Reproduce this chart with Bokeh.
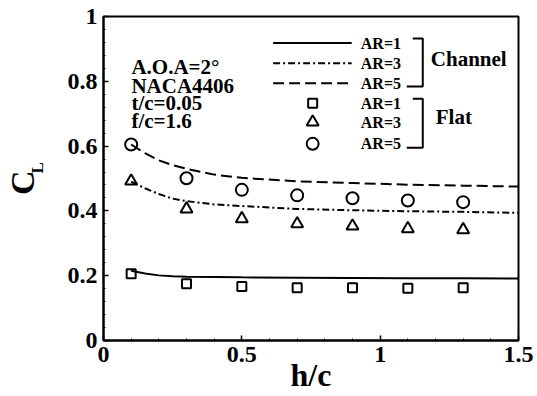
from bokeh.plotting import figure
from bokeh.models import (Label, Range1d, SingleIntervalTicker, FixedTicker,
                          CustomJSTickFormatter, LinearAxis)
from bokeh.embed import file_html
from bokeh.resources import INLINE

# ---- data -------------------------------------------------------------
# flat-plate results (symbols)
hc_flat = [0.1, 0.3, 0.5, 0.7, 0.9, 1.1, 1.3]
cl_flat_ar1 = [0.206, 0.175, 0.167, 0.163, 0.163, 0.161, 0.163]
cl_flat_ar3 = [0.492, 0.406, 0.376, 0.360, 0.353, 0.345, 0.342]
cl_flat_ar5 = [0.605, 0.501, 0.465, 0.448, 0.439, 0.432, 0.427]

# channel results (curves)
hc_channel = [0.1, 0.15, 0.2, 0.25, 0.3, 0.4, 0.5, 0.7, 0.9, 1.1, 1.3, 1.5]
cl_chan_ar1 = [0.215, 0.207, 0.201, 0.198, 0.197, 0.196, 0.195, 0.194, 0.193, 0.192, 0.192, 0.191]
cl_chan_ar3 = [0.490, 0.470, 0.452, 0.438, 0.430, 0.420, 0.415, 0.406, 0.402, 0.399, 0.397, 0.394]
cl_chan_ar5 = [0.605, 0.578, 0.556, 0.541, 0.530, 0.512, 0.502, 0.491, 0.486, 0.481, 0.478, 0.475]

case_lines = ["A.O.A=2\u00b0", "NACA4406", "t/c=0.05", "f/c=1.6"]
ar_labels = ["AR=1", "AR=3", "AR=5"]

# ---- styling ----------------------------------------------------------
FONT = "Liberation Serif"
DASHES = ["solid", "7 3 2 3", "11 5"]
MARKERS = [("square", 9), ("triangle", 12), ("circle", 12)]
NBSP = "\u00a0"

p = figure(
    width=537, height=396,
    x_range=Range1d(0, 1.5), y_range=Range1d(0, 1),
    output_backend="svg", toolbar_location=None,
    min_border_left=102, min_border_right=19,
    min_border_top=16, min_border_bottom=56,
)
p.background_fill_color = "white"
p.border_fill_color = "white"
p.grid.visible = False
p.outline_line_color = "black"
p.outline_line_width = 2

fmt = CustomJSTickFormatter(code="return String(Math.round(tick * 10) / 10)")
p.xaxis.ticker = SingleIntervalTicker(interval=0.5, num_minor_ticks=5)
p.yaxis.ticker = SingleIntervalTicker(interval=0.2, num_minor_ticks=5)
for ax in (p.xaxis[0], p.yaxis[0]):
    ax.formatter = fmt
    ax.axis_line_width = 2
    ax.axis_line_color = "black"
    ax.major_tick_in = 5
    ax.major_tick_out = 0
    ax.minor_tick_in = 2
    ax.minor_tick_out = 0
    ax.major_tick_line_width = 1.5
    ax.major_label_text_font = FONT
    ax.major_label_text_font_style = "bold"
    ax.major_label_text_font_size = "24px"
    ax.major_label_text_color = "black"
    ax.axis_label_text_font = FONT
    ax.axis_label_text_font_style = "bold"
    ax.axis_label_text_color = "black"
p.xaxis.major_label_standoff = 6
p.yaxis.major_label_standoff = 6

# x title
p.xaxis.axis_label = "h/c"
p.xaxis.axis_label_text_font_size = "32px"
p.xaxis.axis_label_standoff = -8

# y title: subscript on the inner axis, main letter on an outer, tick-less axis
p.yaxis.axis_label = NBSP * 5 + "L"
p.yaxis.axis_label_text_font_size = "17px"
p.yaxis.axis_label_standoff = 18

c_axis = LinearAxis(ticker=FixedTicker(ticks=[]), axis_label="C" + NBSP,
                    axis_line_color=None, major_tick_line_color=None,
                    minor_tick_line_color=None, major_tick_out=0, minor_tick_out=0,
                    major_label_standoff=0, axis_label_standoff=-16,
                    axis_label_text_font=FONT, axis_label_text_font_style="bold",
                    axis_label_text_font_size="34px", axis_label_text_color="black")
p.add_layout(c_axis, "left")

# channel curves
for ys, dash in zip([cl_chan_ar1, cl_chan_ar3, cl_chan_ar5], DASHES):
    p.line(hc_channel, ys, line_color="black", line_width=2, line_dash=dash)

# flat-plate symbols
for ys, (mk, sz) in zip([cl_flat_ar1, cl_flat_ar3, cl_flat_ar5], MARKERS):
    p.scatter(hc_flat, ys, marker=mk, size=sz, fill_color=None,
              line_color="black", line_width=2)

# ---- annotations ------------------------------------------------------
def label(**kw):
    kw.setdefault("text_font", FONT)
    kw.setdefault("text_font_style", "bold")
    kw.setdefault("text_color", "black")
    p.add_layout(Label(**kw))

for txt, yb in zip(case_lines, [0.843, 0.787, 0.733, 0.679]):
    label(x=0.101, y=yb, text=txt, text_font_size="21px", text_baseline="alphabetic")

# legend keys
key_x0, key_x1, key_xm = 0.613, 0.897, 0.756
text_x = 0.930
chan_rows = [0.918, 0.856, 0.794]
flat_rows = [0.732, 0.674, 0.607]
for yr, dash, lab in zip(chan_rows, DASHES, ar_labels):
    p.line([key_x0, key_x1], [yr, yr], line_color="black", line_width=2, line_dash=dash)
    label(x=text_x, y=yr, text=lab, text_font_size="16px", text_baseline="middle")
for yr, (mk, sz), lab in zip(flat_rows, MARKERS, ar_labels):
    p.scatter([key_xm], [yr], marker=mk, size=sz, fill_color=None,
              line_color="black", line_width=2)
    label(x=text_x, y=yr, text=lab, text_font_size="16px", text_baseline="middle")

# group brackets
bx = 1.154
p.multi_line(
    xs=[[1.118, bx, bx, 1.096], [1.118, bx, bx, 1.096]],
    ys=[[0.932, 0.932, 0.784, 0.784], [0.746, 0.746, 0.595, 0.595]],
    line_color="black", line_width=2,
)
label(x=1.183, y=0.833, text="Channel", text_font_size="21px")
label(x=1.201, y=0.653, text="Flat", text_font_size="21px")

open("out.html", "w").write(file_html(p, INLINE))
